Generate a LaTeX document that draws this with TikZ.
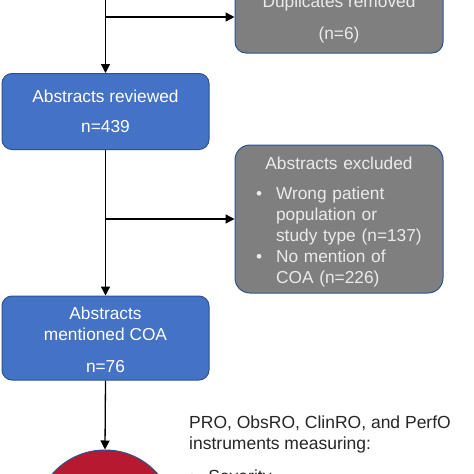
\documentclass[tikz,border=0pt]{standalone}
\usepackage{fontspec}
\setmainfont{Liberation Sans}
\usetikzlibrary{arrows.meta}
\definecolor{boxblue}{HTML}{4472C4}
\definecolor{boxedge}{HTML}{2F528F}
\definecolor{boxgray}{HTML}{7F7F7F}
\definecolor{circred}{HTML}{B51A30}
\definecolor{txtdark}{HTML}{262626}
\tikzset{
  boxfont/.style={font=\fontsize{17.3}{21}\selectfont},
  bluebox/.style={draw=boxedge, line width=1pt, fill=boxblue, rounded corners=10pt,
    text=white, align=center, minimum width=207pt, inner sep=0pt, boxfont},
  graybox/.style={draw=boxedge, line width=1pt, fill=boxgray, rounded corners=11pt,
    text=white!92!black, align=center, minimum width=208pt, inner sep=0pt, boxfont},
  flow/.style={line width=1.3pt, -{Triangle[length=9pt,width=9pt]}},
}
\begin{document}
\begin{tikzpicture}[x=1pt,y=-1pt]
\clip (0,0) rectangle (474,474);
\fill[white] (0,0) rectangle (474,474);

\node[graybox, minimum height=72pt] (dup) at (339,17) {\rule{0pt}{16pt}Duplicates removed\\[11pt](n=6)};
\node[bluebox, minimum height=76pt] (rev) at (105.5,111.5) {Abstracts reviewed\\[9pt]n=439};
\node[graybox, minimum height=148pt, rounded corners=15pt, text width=190pt, align=left] (exc) at (339,219)
  {{\centering\rule{0pt}{21.5pt}Abstracts excluded\par}\vspace{9pt}\noindent\hspace*{12pt}\begin{tabular}[t]{@{}l@{\hspace{14pt}}l@{}}
   \textbullet & Wrong patient\\
               & population or\\
               & study type (n=137)\\
   \textbullet & No mention of\\
               & COA (n=226)
  \end{tabular}};
\node[bluebox, minimum height=84pt] (coa) at (105.5,338) {\rule{0pt}{17pt}Abstracts\\mentioned COA\\[11pt]n=76};
\node[circle, fill=circred, draw=boxedge, line width=1pt, minimum size=140pt, inner sep=0pt] (red) at (105,520) {};

\node[anchor=north west, align=left, inner sep=0pt, text=txtdark, font=\fontsize{17.5}{21}\selectfont] (instr) at (189,416)
  {PRO, ObsRO, ClinRO, and PerfO\\instruments measuring:\\[12pt]\textbullet\hspace{13pt}Severity};

\coordinate (top) at (105.5,-5);
\draw[flow] (top) -- (rev.north);
\draw[flow] (top |- dup.west) -- (dup.west);
\draw[flow] (rev.south) -- (coa.north);
\draw[flow] (rev.south |- exc.west) -- (exc.west);
\draw[flow] (coa.south) -- (red.north);
\end{tikzpicture}
\end{document}
